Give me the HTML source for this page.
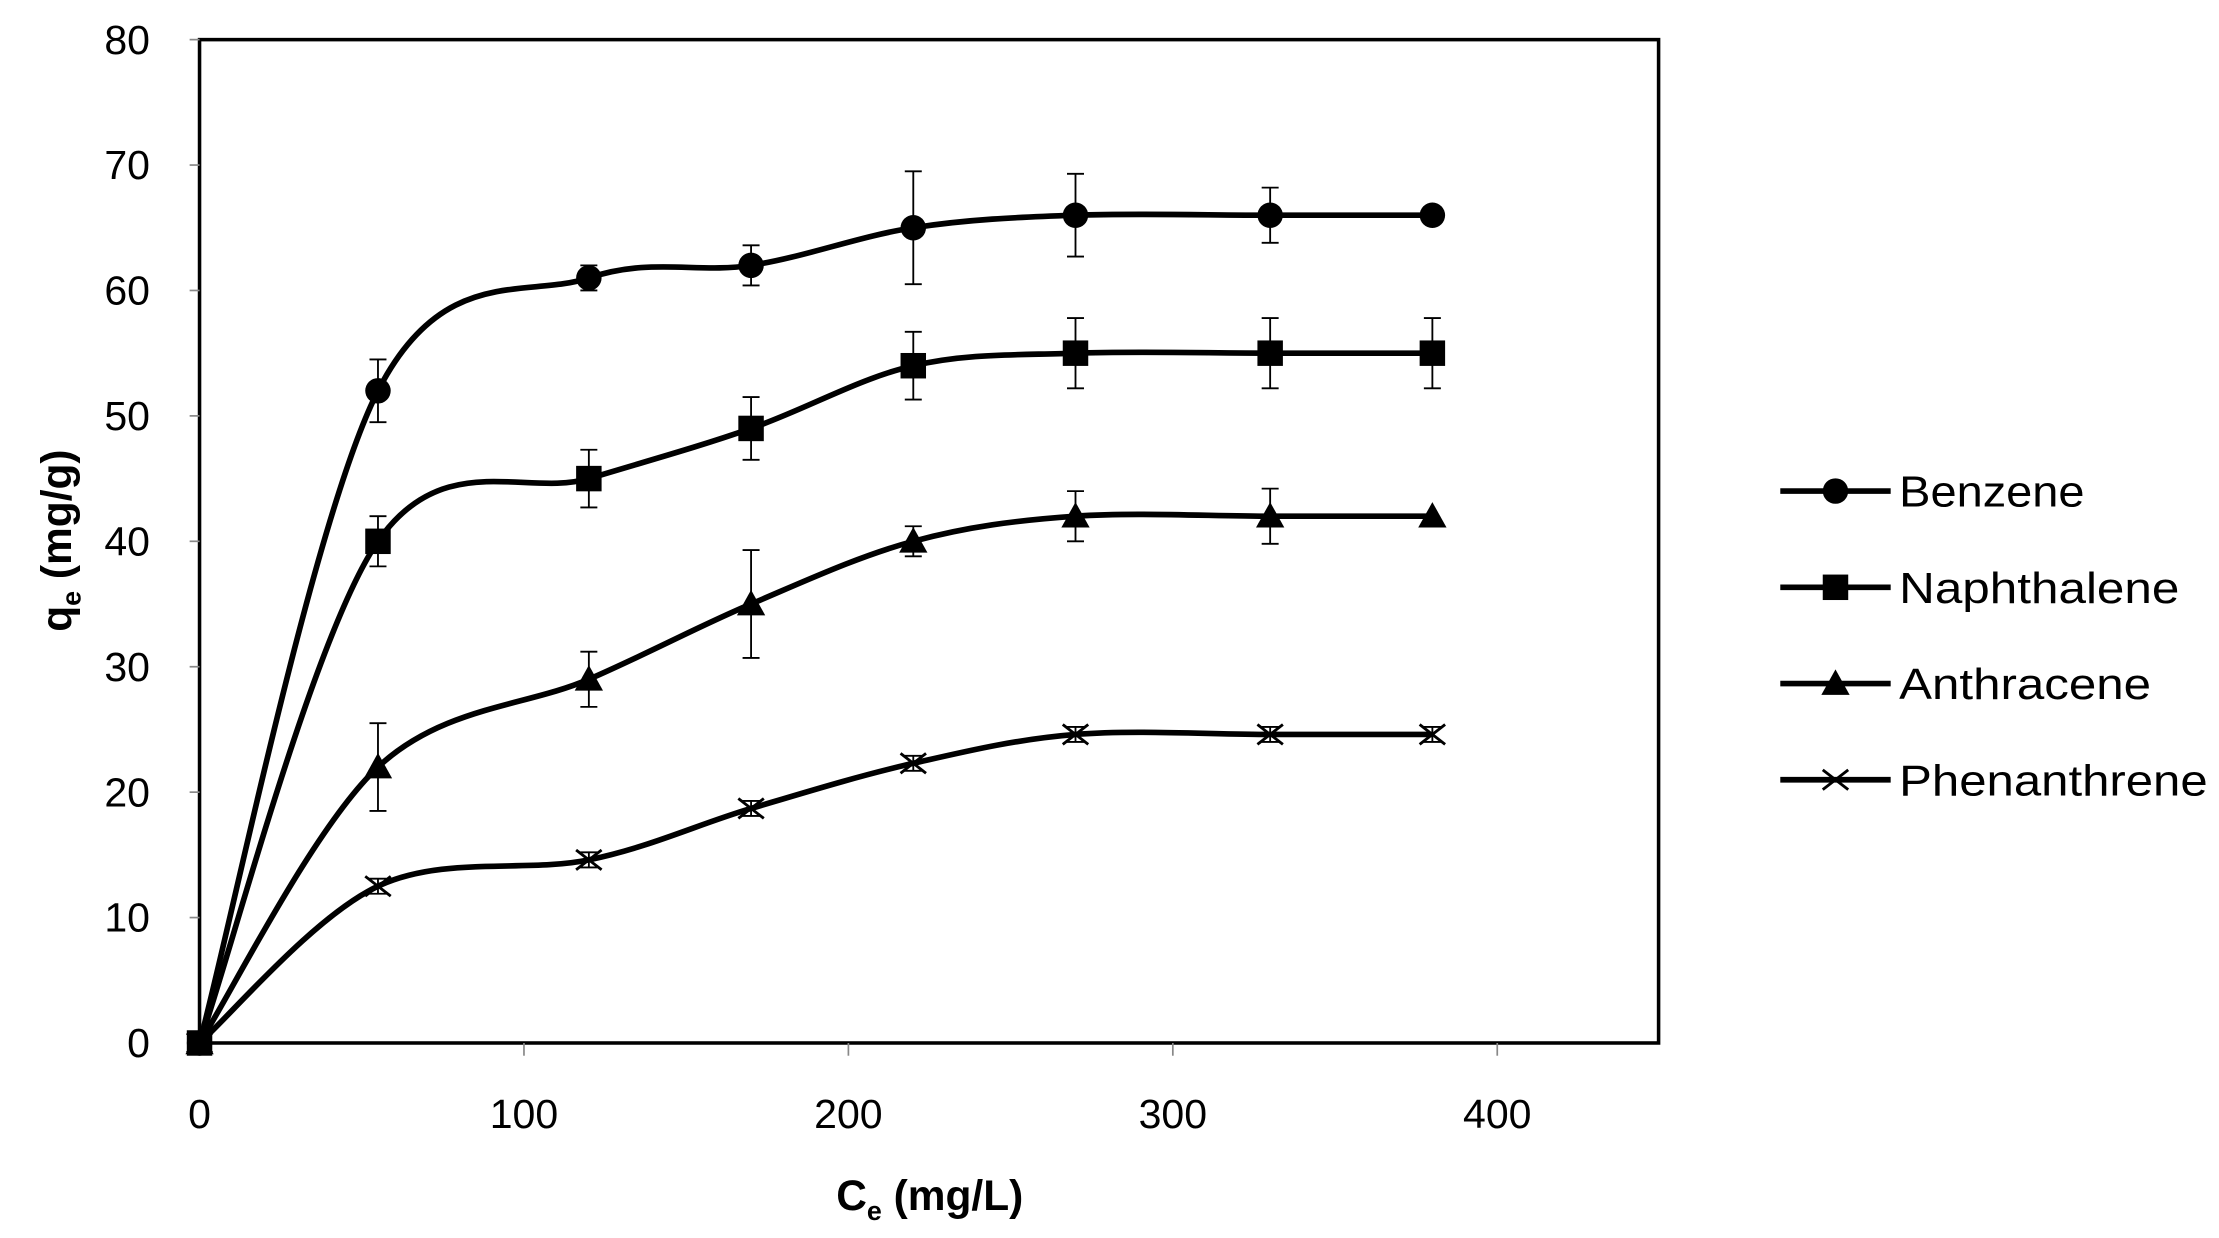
<!DOCTYPE html>
<html><head><meta charset="utf-8"><style>
html,body{margin:0;padding:0;background:#fff}
svg{display:block}
text{font-family:"Liberation Sans",sans-serif;fill:#000}
</style></head><body>
<svg id="s" width="2219" height="1238" viewBox="0 0 1568 874.8" preserveAspectRatio="none" xmlns="http://www.w3.org/2000/svg">
<rect x="141" y="28" width="1031" height="709" fill="#fff" stroke="#000" stroke-width="2.5"/>
<g id="ticks" stroke="#888" stroke-width="1.2"></g>
<g id="lbl" font-size="29"></g>
<text x="657" y="855" font-size="30" font-weight="bold" text-anchor="middle">C<tspan font-size="19" dy="7">e</tspan><tspan dy="-7"> (mg/L)</tspan></text>
<text transform="translate(50,382) rotate(-90)" font-size="30" font-weight="bold" text-anchor="middle">q<tspan font-size="19" dy="7">e</tspan><tspan dy="-7"> (mg/g)</tspan></text>
<g id="ser"></g>
<g id="leg" font-size="31"></g>
</svg>
<script>
const NS="http://www.w3.org/2000/svg";
const X=x=>141+x*2.2925, Y=y=>737-y*8.8625;
function el(p,t,a,txt){const e=document.createElementNS(NS,t);for(const k in a)e.setAttribute(k,a[k]);if(txt!=null)e.textContent=txt;document.getElementById(p).appendChild(e);return e;}
for(let v=0;v<=80;v+=10){el('ticks','line',{x1:134,x2:141,y1:Y(v),y2:Y(v)});el('lbl','text',{x:106,y:Y(v)+10,'text-anchor':'end'},v);}
for(let v=0;v<=400;v+=100){el('ticks','line',{x1:X(v),x2:X(v),y1:737,y2:746});el('lbl','text',{x:X(v),y:797,'text-anchor':'middle'},v);}
const xs=[0,55,120,170,220,270,330,380];
const S=[
 {n:'Benzene',w:131,m:'c',y:[0,52,61,62,65,66,66,66],e:[0,2.5,1,1.6,4.5,3.3,2.2,0]},
 {n:'Naphthalene',w:198,m:'s',y:[0,40,45,49,54,55,55,55],e:[0,2,2.3,2.5,2.7,2.8,2.8,2.8]},
 {n:'Anthracene',w:178,m:'t',y:[0,22,29,35,40,42,42,42],e:[0,3.5,2.2,4.3,1.2,2,2.2,0]},
 {n:'Phenanthrene',w:218,m:'x',y:[0,12.5,14.6,18.7,22.3,24.6,24.6,24.6],e:[0,0.6,0.6,0.6,0.6,0.6,0.6,0.6]}];
function marker(m,x,y,g){
 if(m=='c')el(g,'circle',{cx:x,cy:y,r:9,fill:'#000'});
 else if(m=='s')el(g,'rect',{x:x-9,y:y-9,width:18,height:18,fill:'#000'});
 else if(m=='t')el(g,'polygon',{points:`${x},${y-10} ${x+10},${y+8} ${x-10},${y+8}`,fill:'#000'});
 else{el(g,'path',{d:`M${x-9},${y-7}L${x+9},${y+7}M${x-9},${y+7}L${x+9},${y-7}`,stroke:'#000','stroke-width':2,fill:'none'});}
}
S.forEach((s,k)=>{
 const P=xs.map((x,i)=>[X(x),Y(s.y[i])]);
 let d=`M${P[0][0]},${P[0][1]}`;
 for(let i=0;i<P.length-1;i++){
  const p0=P[Math.max(0,i-1)],p1=P[i],p2=P[i+1],p3=P[Math.min(P.length-1,i+2)];
  const t=0.5/3;
  d+=`C${p1[0]+(p2[0]-p0[0])*t},${p1[1]+(p2[1]-p0[1])*t} ${p2[0]-(p3[0]-p1[0])*t},${p2[1]-(p3[1]-p1[1])*t} ${p2[0]},${p2[1]}`;
 }
 el('ser','path',{d,fill:'none',stroke:'#000','stroke-width':4});
 xs.forEach((x,i)=>{ if(s.e[i]>0){const a=X(x),t=Y(s.y[i]+s.e[i]),b=Y(s.y[i]-s.e[i]);
  el('ser','path',{d:`M${a},${t}V${b}M${a-6},${t}H${a+6}M${a-6},${b}H${a+6}`,stroke:'#000','stroke-width':1.3,fill:'none'});}
  marker(s.m,P[i][0],P[i][1],'ser');});
 const ly=347+68*k;
 el('leg','line',{x1:1258,x2:1336,y1:ly,y2:ly,stroke:'#000','stroke-width':4});
 marker(s.m,1297,ly,'leg');
 el('leg','text',{x:1342,y:ly+11,textLength:s.w,lengthAdjust:'spacingAndGlyphs'},s.n);
});
</script>
</body></html>
